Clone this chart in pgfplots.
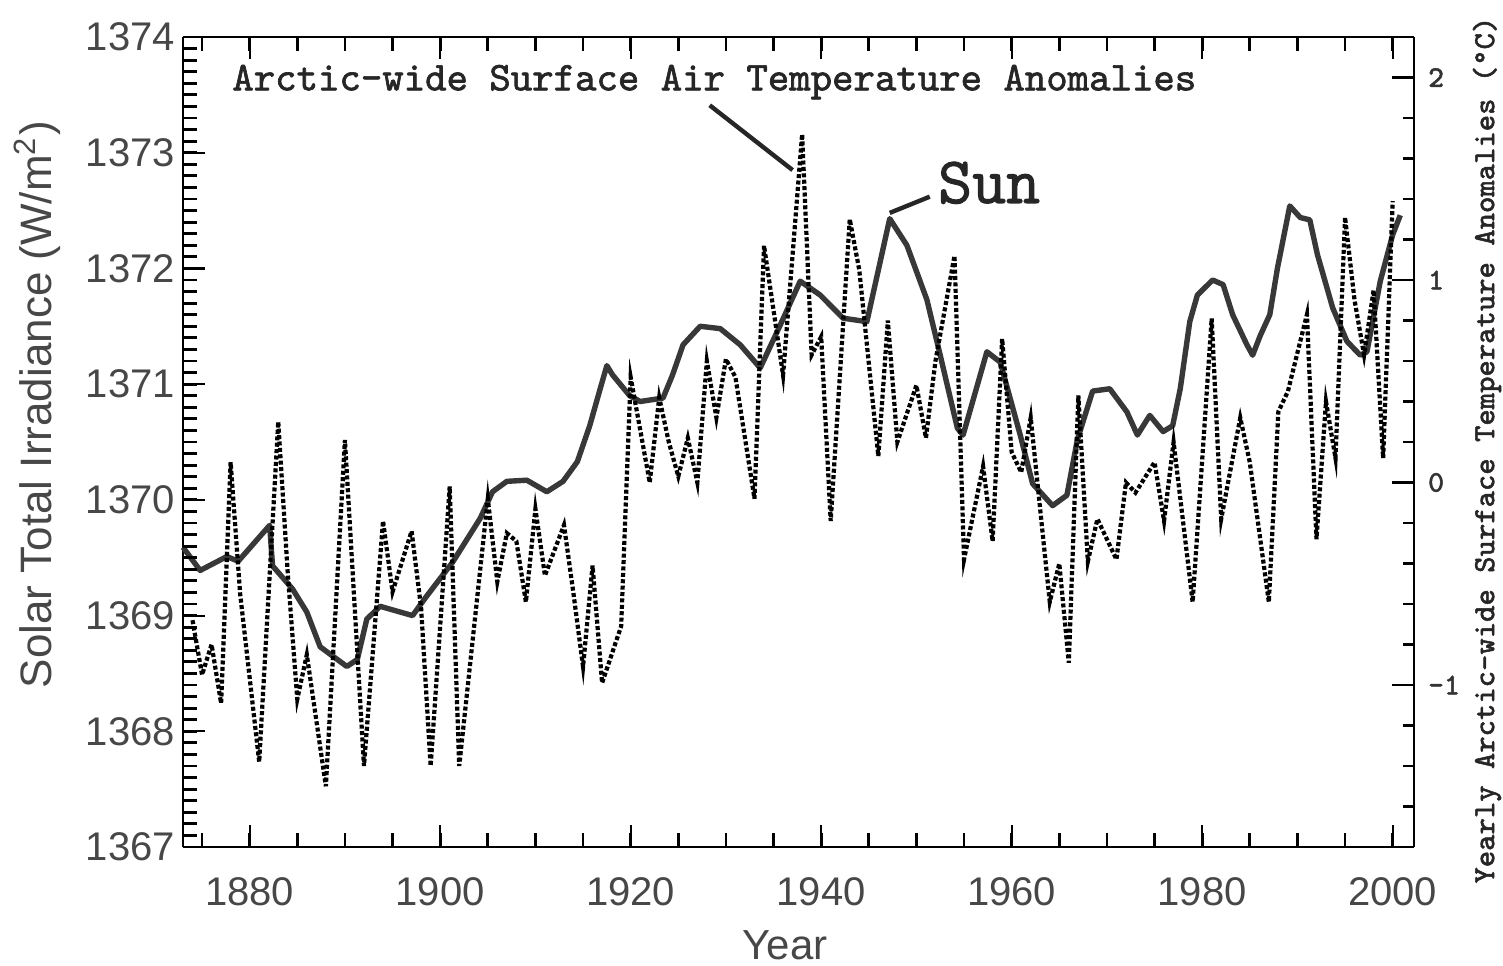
\documentclass[border=0pt]{standalone}
\usepackage{fontspec}
\setmainfont{Liberation Sans}
\newfontfamily\courb{Latin Modern Mono}[FakeBold=1.6]
\usepackage{pgfplots}
\pgfplotsset{compat=1.18}

% Solar total irradiance (left axis, W/m^2)
\pgfplotstableread{
year  tsi
1873.0 1369.59
1874.8 1369.39
1877.6 1369.51
1878.8 1369.47
1882.1 1369.78
1882.4 1369.43
1884.5 1369.23
1886.0 1369.03
1887.4 1368.73
1890.2 1368.56
1891.3 1368.62
1892.3 1368.97
1893.7 1369.08
1897.1 1369.00
1898.6 1369.17
1901.3 1369.46
1904.2 1369.84
1905.5 1370.07
1907.0 1370.16
1909.1 1370.17
1911.2 1370.07
1912.9 1370.16
1914.4 1370.33
1915.7 1370.64
1916.8 1370.96
1917.5 1371.16
1918.1 1371.08
1919.9 1370.90
1921.0 1370.85
1923.4 1370.88
1924.4 1371.08
1925.5 1371.34
1927.3 1371.50
1929.4 1371.48
1931.5 1371.34
1933.6 1371.14
1935.7 1371.51
1937.8 1371.89
1939.9 1371.77
1942.3 1371.57
1944.8 1371.54
1947.2 1372.43
1949.0 1372.20
1951.1 1371.73
1952.5 1371.25
1954.3 1370.62
1954.9 1370.56
1957.4 1371.28
1958.8 1371.19
1960.9 1370.56
1962.2 1370.14
1964.3 1369.95
1965.8 1370.04
1966.9 1370.52
1968.5 1370.94
1970.3 1370.96
1972.1 1370.76
1973.2 1370.56
1974.5 1370.73
1975.9 1370.59
1976.9 1370.64
1977.7 1370.96
1978.7 1371.54
1979.5 1371.77
1981.1 1371.90
1982.2 1371.86
1983.2 1371.60
1984.7 1371.34
1985.3 1371.25
1986.1 1371.42
1987.1 1371.60
1987.9 1372.00
1989.2 1372.54
1990.3 1372.44
1991.3 1372.42
1992.1 1372.12
1993.7 1371.66
1995.2 1371.37
1996.6 1371.25
1997.3 1371.28
1998.7 1371.89
2000.0 1372.29
2000.8 1372.46
}\suntable

% Arctic-wide surface air temperature anomalies (right axis, deg C)
\pgfplotstableread{
year  temp
1874 -0.68
1875 -0.95
1876 -0.80
1877 -1.09
1878 0.10
1879 -0.55
1881 -1.38
1883 0.30
1884 -0.45
1885 -1.07
1886 -0.85
1888 -1.50
1890 0.21
1892 -1.40
1894 -0.19
1895 -0.54
1897 -0.24
1898 -0.62
1899 -1.40
1901 -0.02
1902 -1.40
1905 -0.08
1906 -0.49
1907 -0.25
1908 -0.29
1909 -0.59
1910 -0.13
1911 -0.46
1913 -0.21
1914 -0.55
1915 -0.91
1916 -0.41
1917 -0.99
1918 -0.85
1919 -0.71
1920 0.52
1922 0.00
1923 0.42
1924 0.20
1925 0.03
1926 0.22
1927 0.00
1928 0.60
1929 0.32
1930 0.61
1931 0.52
1933 -0.08
1934 1.17
1936 0.53
1938 1.72
1939 0.63
1940 0.72
1941 -0.19
1943 1.30
1944 1.05
1946 0.13
1947 0.80
1948 0.20
1950 0.48
1951 0.22
1952 0.60
1954 1.12
1955 -0.38
1957 0.08
1958 -0.29
1959 0.71
1960 0.15
1961 0.05
1962 0.32
1964 -0.59
1965 -0.40
1966 -0.89
1967 0.43
1968 -0.39
1969 -0.18
1971 -0.38
1972 0.00
1973 -0.05
1975 0.10
1976 -0.19
1977 0.20
1979 -0.59
1981 0.81
1982 -0.18
1984 0.32
1985 0.10
1987 -0.59
1988 0.35
1989 0.45
1991 0.83
1992 -0.28
1993 0.40
1994 0.12
1995 1.31
1996 0.90
1997 0.63
1998 0.95
1999 0.12
2000 1.39
}\temptable

\begin{document}
\begin{tikzpicture}
\pgfplotsset{
  every axis/.append style={
    scale only axis, width=307.75pt, height=202.5pt,
    xmin=1873, xmax=2002.24,
    clip=false,
    tick align=inside,
    major tick length=5.5pt,
    every tick/.style={black, line width=0.55pt},
    axis line style={line width=0.6pt},
    /pgf/number format/1000 sep={},
    /pgf/number format/assume math mode=true,
  },
}
% left axis and bottom axis, with the Sun curve
\begin{axis}[
  ymin=1367, ymax=1374,
  axis x line*=bottom, axis y line*=left,
  xtick={1880,1900,...,2000},
  ytick={1367,...,1374},
  ticklabel style={font=\fontsize{10}{12}\selectfont, text=black!72},
  yticklabel style={xshift=1.5pt},
  xticklabel style={yshift=-4pt},
]
\coordinate (sw) at (rel axis cs:0,0);
\addplot[black!78, line width=1.35pt, line join=round] table[x=year, y=tsi] {\suntable};

\node[anchor=west, inner sep=0pt, font=\courb\fontsize{10.2}{11}\selectfont, text=black!85]
  at (axis cs:1878.1,1373.61) {Arctic-wide Surface Air Temperature Anomalies};
\draw[black!85, line width=1.1pt] (axis cs:1928.3,1373.41) -- (axis cs:1937.0,1372.85);
\node[anchor=west, inner sep=0pt, font=\courb\fontsize{16.5}{17}\selectfont, text=black!85]
  at (axis cs:1952.2,1372.74) {Sun};
\draw[black!85, line width=1.1pt] (axis cs:1951.4,1372.62) -- (axis cs:1947.2,1372.48);

\node[rotate=90, font=\fontsize{11}{12}\selectfont, text=black!72]
  at (rel axis cs:-0.118,0.546) {Solar Total Irradiance (W/m\textsuperscript{2})};
\node[font=\fontsize{10.5}{12}\selectfont, text=black!72]
  at (rel axis cs:0.489,-0.121) {Year};
\end{axis}

% top axis line with its major ticks
\begin{axis}[
  ymin=0, ymax=1,
  axis x line*=top, axis y line=none,
  xtick={1880,1900,...,2000},
  xticklabels={},
]
\end{axis}

% right axis, with the temperature curve
\begin{axis}[
  ymin=-1.8, ymax=2.2,
  axis x line=none, axis y line*=right,
  ytick={-1,0,1,2},
  minor ytick={-1.8,-1.6,...,2.2},
  minor tick length=2.8pt,
  yticklabel style={font=\courb\fontsize{7.5}{8}\selectfont, text=black!80, xshift=0pt},
]
\addplot[black, line width=1.05pt, dash pattern=on 1pt off 0.6pt] table[x=year, y=temp] {\temptable};
\node[rotate=90, font=\courb\fontsize{7.7}{8}\selectfont, text=black!85]
  at (rel axis cs:1.0593,0.49) {Yearly Arctic-wide Surface Temperature Anomalies (°C)};
\end{axis}

% small ticks: every 0.1 W/m2 on the left, every 5 years at bottom and top
\foreach \i in {1,...,69} {
  \draw[black, line width=0.7pt] ([yshift=\i*2.892857pt]sw) -- ++(3.6pt,0);
}
\foreach \i in {0,...,25} {
  \draw[black, line width=0.7pt] ([xshift=4.7625pt+\i*11.90625pt]sw) -- ++(0,3.4pt);
  \draw[black, line width=0.7pt] ([xshift=4.7625pt+\i*11.90625pt, yshift=202.5pt]sw) -- ++(0,-3.4pt);
}

\pgfresetboundingbox
\path ([shift={(-45.75pt,-29.75pt)}]sw) rectangle ([shift={(330pt,211.75pt)}]sw);
\end{tikzpicture}
\end{document}
